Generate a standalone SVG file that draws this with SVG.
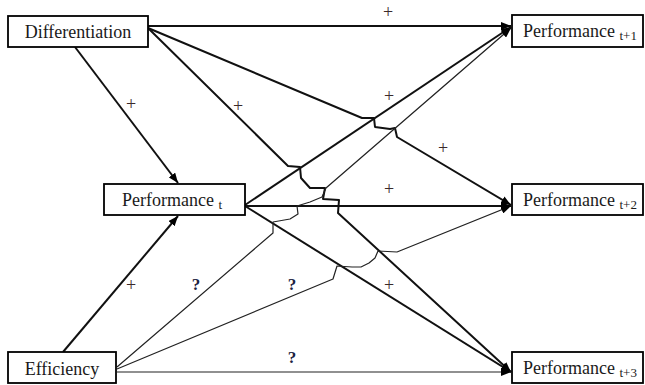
<svg xmlns="http://www.w3.org/2000/svg" width="645" height="385" viewBox="0 0 645 385">
  <style>
    .box { fill: #ffffff; stroke: #000000; stroke-width: 1.8; }
    text { font-family: "Liberation Serif", "Times New Roman", "DejaVu Serif", serif; }
    .name { font-size: 18px; fill: #1a1a1a; }
    .sub { font-size: 13px; }
    .thick { fill: none; stroke: #111111; stroke-width: 2; stroke-linejoin: round; marker-end: url(#arrow); }
    .thin { fill: none; stroke: #222222; stroke-width: 1.2; stroke-linejoin: round; marker-end: url(#arrow); }
    .plus { font-size: 18px; fill: #3a2a2a; text-anchor: middle; }
    .q { font-size: 17px; font-weight: bold; fill: #1c2240; text-anchor: middle; }
  </style>
  <defs>
    <marker id="arrow" markerUnits="userSpaceOnUse" markerWidth="11" markerHeight="8" refX="10" refY="4" orient="auto">
      <path d="M0,0 L10,4 L0,8 z" fill="#000000"/>
    </marker>
  </defs>
  <rect width="645" height="385" fill="#ffffff"/>

  <!-- connectors (hop-over detours where lines cross) -->
  <g id="connectors">
    <line class="thick" x1="148" y1="26" x2="511" y2="26"/>
    <line class="thick" x1="75" y1="47" x2="178" y2="183"/>
    <line class="thick" x1="63" y1="352" x2="178" y2="216"/>
    <polyline class="thick" points="148,28 362,118 374,118 375,127 390,129 395,128 397,137 511,205"/>
    <polyline class="thick" points="148,28 288,166 300,167 301,178 310,188 325,188 323,199 339,200 338,213 511,372"/>
    <line class="thick" x1="245" y1="205" x2="511" y2="27"/>
    <line class="thick" x1="245" y1="206" x2="511" y2="206"/>
    <line class="thick" x1="245" y1="206" x2="511" y2="372"/>
    <polyline class="thin" points="117,367 273,233 273,222 290,219 298,214 297,206 310,202 322,197 326,188 511,28"/>
    <polyline class="thin" points="117,369 333,279 337,266 352,267 361,267 369,263 375,258 378,251 397,252 511,206"/>
    <line class="thin" x1="117" y1="372" x2="511" y2="372"/>
  </g>

  <!-- path signs -->
  <g id="labels">
    <text class="plus" x="388" y="18">+</text>
    <text class="plus" x="131" y="110">+</text>
    <text class="plus" x="238" y="112">+</text>
    <text class="plus" x="389" y="102">+</text>
    <text class="plus" x="443" y="154">+</text>
    <text class="plus" x="389" y="195">+</text>
    <text class="plus" x="389" y="291">+</text>
    <text class="plus" x="131" y="291">+</text>
    <text class="q" x="196" y="290">?</text>
    <text class="q" x="292" y="290">?</text>
    <text class="q" x="292" y="363">?</text>
  </g>

  <g id="differentiation">
    <rect class="box" x="8" y="16" width="140" height="31"/>
    <text class="name" x="78" y="38" text-anchor="middle">Differentiation</text>
  </g>
  <g id="efficiency">
    <rect class="box" x="8" y="352" width="108" height="31"/>
    <text class="name" x="62" y="375" text-anchor="middle">Efficiency</text>
  </g>
  <g id="performance-t">
    <rect class="box" x="104" y="184" width="141" height="31"/>
    <text class="name" x="122" y="206">Performance <tspan class="sub" dy="3">t</tspan></text>
  </g>
  <g id="performance-t1">
    <rect class="box" x="512" y="15" width="131" height="32"/>
    <text class="name" x="523" y="37">Performance <tspan class="sub" dy="3">t+1</tspan></text>
  </g>
  <g id="performance-t2">
    <rect class="box" x="512" y="184" width="131" height="31"/>
    <text class="name" x="523" y="206">Performance <tspan class="sub" dy="3">t+2</tspan></text>
  </g>
  <g id="performance-t3">
    <rect class="box" x="512" y="352" width="131" height="31"/>
    <text class="name" x="523" y="374">Performance <tspan class="sub" dy="3">t+3</tspan></text>
  </g>
</svg>
